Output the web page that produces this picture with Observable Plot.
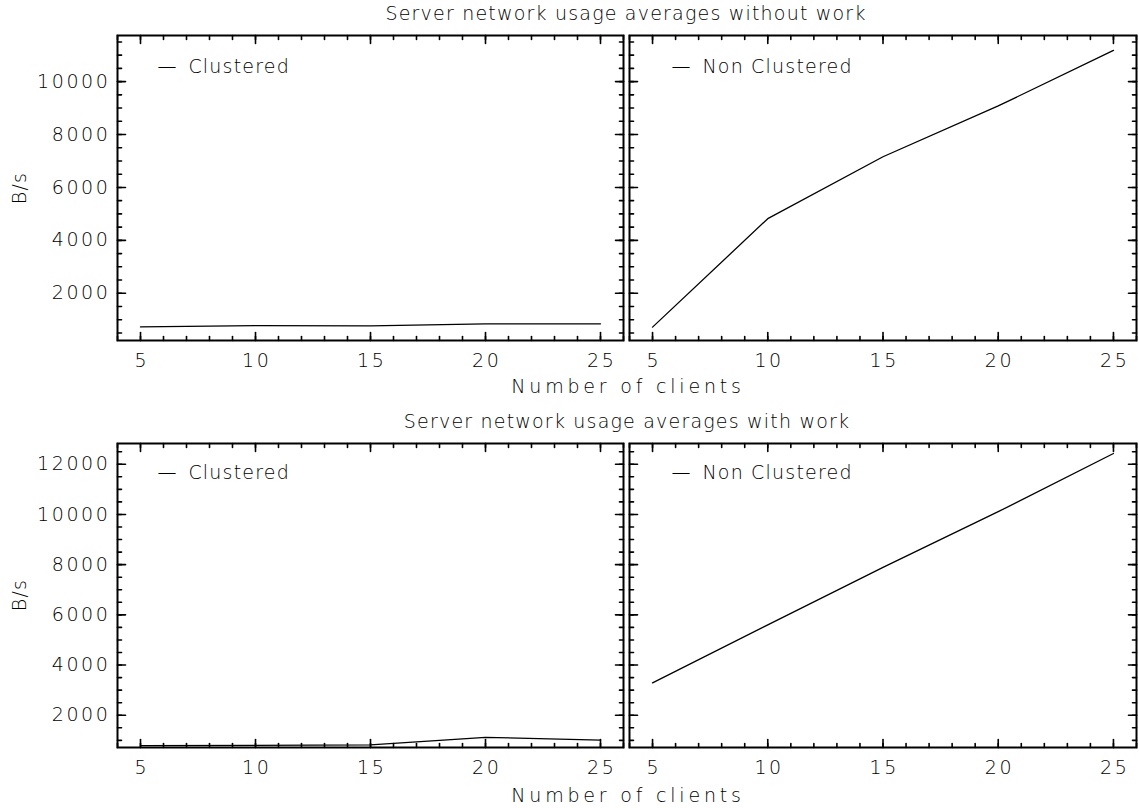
<!DOCTYPE html>
<html><head><meta charset="utf-8">
<script src="https://cdn.jsdelivr.net/npm/d3@7"></script>
<script src="https://cdn.jsdelivr.net/npm/@observablehq/plot@0.6"></script>
<style>
body{margin:0;background:#fff;}
#chart{position:relative;width:1139px;height:808px;font-family:"DejaVu Sans",sans-serif;font-weight:200;color:#000;overflow:hidden;}
.lbl{position:absolute;font-size:19px;letter-spacing:1.2px;white-space:nowrap;transform:translate(-50%,-50%);}
.lbl.wide{letter-spacing:3.8px;}
.panel{position:absolute;}
</style></head><body><div id="chart"></div>
<script>
// ---- data ----
const clients = [5, 10, 15, 20, 25];
const withoutClustered = [730, 780, 770, 840, 845];
const withoutNonClustered = [720, 4820, 7160, 9080, 11180];
const withClustered = [790, 800, 820, 1120, 1010];
const withNonClustered = [3290, 5600, 7890, 10110, 12430];
const titles = ["Server network usage averages without work", "Server network usage averages with work"];
const xLabel = "Number of clients";
const yLabel = "B/s";
const seriesNames = ["Clustered", "Non Clustered"];
const xMajorTicks = [5, 10, 15, 20, 25];
const xMinorTicks = d3.range(4, 27, 1);
const topYMajor = [2000, 4000, 6000, 8000, 10000];
const topYMinor = d3.range(500, 11600, 500);
const botYMajor = [2000, 4000, 6000, 8000, 10000, 12000];
const botYMinor = d3.range(1000, 12600, 500);
const topYDomain = [215, 11743];
const botYDomain = [716, 12827];

const chart = document.getElementById("chart");
const ink = "#000";
const fmt = d3.format("d");
const line = {draw(context, l) { context.moveTo(0, 0); context.lineTo(0, -l); }};

function ticksFor(yMajor, yMinor) {
  const s = {stroke: ink, strokeWidth: 1.6, shape: line, anchor: "start"};
  const out = [];
  for (const [vals, len] of [[xMajorTicks, 8], [xMinorTicks, 4]]) {
    out.push(Plot.vector(vals, {...s, x: d => d, frameAnchor: "bottom", rotate: 0, length: len}));
    out.push(Plot.vector(vals, {...s, x: d => d, frameAnchor: "top", rotate: 180, length: len}));
  }
  for (const [vals, len] of [[yMajor, 8], [yMinor, 4]]) {
    out.push(Plot.vector(vals, {...s, y: d => d, frameAnchor: "left", rotate: 90, length: len}));
    out.push(Plot.vector(vals, {...s, y: d => d, frameAnchor: "right", rotate: -90, length: len}));
  }
  return out;
}

function panel({values, name, yDomain, yMajor, yMinor, showY, left, top, width, height, mL, mR, mT, mB, legendDx, legendDy}) {
  const data = clients.map((c, i) => ({clients: c, value: values[i]}));
  const marks = [
    ...ticksFor(yMajor, yMinor),
    Plot.axisX({anchor: "bottom", ticks: xMajorTicks, tickSize: 0, tickPadding: 13, dx: 1.3, label: null, tickFormat: fmt, fill: ink, fontSize: 19}),
    Plot.frame({stroke: ink, strokeWidth: 2}),
    Plot.line(data, {x: "clients", y: "value", stroke: ink, strokeWidth: 1.3}),
    Plot.text([name], {frameAnchor: "top-left", dx: legendDx, dy: legendDy, text: d => "\u2014\u2002" + d, textAnchor: "start", lineAnchor: "middle", fill: ink, fontSize: 19})
  ];
  if (showY) marks.push(Plot.axisY({anchor: "left", ticks: yMajor, tickSize: 0, tickPadding: 7, label: null, tickFormat: fmt, fill: ink, fontSize: 19}));
  else marks.push(Plot.axisY({anchor: "left", ticks: [], tickSize: 0, label: null}));
  const svg = Plot.plot({
    width, height, marginLeft: mL, marginRight: mR, marginTop: mT, marginBottom: mB,
    x: {domain: [4, 26]},
    y: {domain: yDomain},
    style: {fontFamily: "'DejaVu Sans', sans-serif", fontWeight: 200, fontSize: "19px", color: ink, background: "transparent", overflow: "visible", letterSpacing: "1.2px"},
    marks
  });
  svg.querySelectorAll('g[aria-label="y-axis tick label"] text').forEach(t => t.style.letterSpacing = "2.6px");
  svg.querySelectorAll('g[aria-label="x-axis tick label"] text').forEach(t => t.style.letterSpacing = "2.6px");
  const wrap = document.createElement("div");
  wrap.className = "panel";
  wrap.style.left = left + "px";
  wrap.style.top = top + "px";
  wrap.appendChild(svg);
  chart.appendChild(wrap);
}

// top row
panel({values: withoutClustered, name: seriesNames[0], yDomain: topYDomain, yMajor: topYMajor, yMinor: topYMinor, showY: true,
  left: 0, top: 0, width: 625, height: 380, mL: 117, mR: 2, mT: 35, mB: 40, legendDx: 40, legendDy: 31});
panel({values: withoutNonClustered, name: seriesNames[1], yDomain: topYDomain, yMajor: topYMajor, yMinor: topYMinor, showY: false,
  left: 627, top: 0, width: 512, height: 380, mL: 2, mR: 3, mT: 35, mB: 40, legendDx: 42, legendDy: 31});
// bottom row
panel({values: withClustered, name: seriesNames[0], yDomain: botYDomain, yMajor: botYMajor, yMinor: botYMinor, showY: true,
  left: 0, top: 400, width: 625, height: 387, mL: 117, mR: 2, mT: 43, mB: 40, legendDx: 40, legendDy: 29});
panel({values: withNonClustered, name: seriesNames[1], yDomain: botYDomain, yMajor: botYMajor, yMinor: botYMinor, showY: false,
  left: 627, top: 400, width: 512, height: 387, mL: 2, mR: 3, mT: 43, mB: 40, legendDx: 42, legendDy: 29});

function label(text, x, y, rotate, cls) {
  const d = document.createElement("div");
  d.className = "lbl" + (cls ? " " + cls : "");
  d.textContent = text;
  d.style.left = x + "px";
  d.style.top = y + "px";
  if (rotate) d.style.transform = "translate(-50%,-50%) rotate(-90deg)";
  chart.appendChild(d);
}
label(titles[0], 626, 13);
label(titles[1], 627, 421);
label(xLabel, 628, 386, false, "wide");
label(xLabel, 628, 795, false, "wide");
label(yLabel, 19, 188, true);
label(yLabel, 19, 595, true);
</script>
</body></html>
